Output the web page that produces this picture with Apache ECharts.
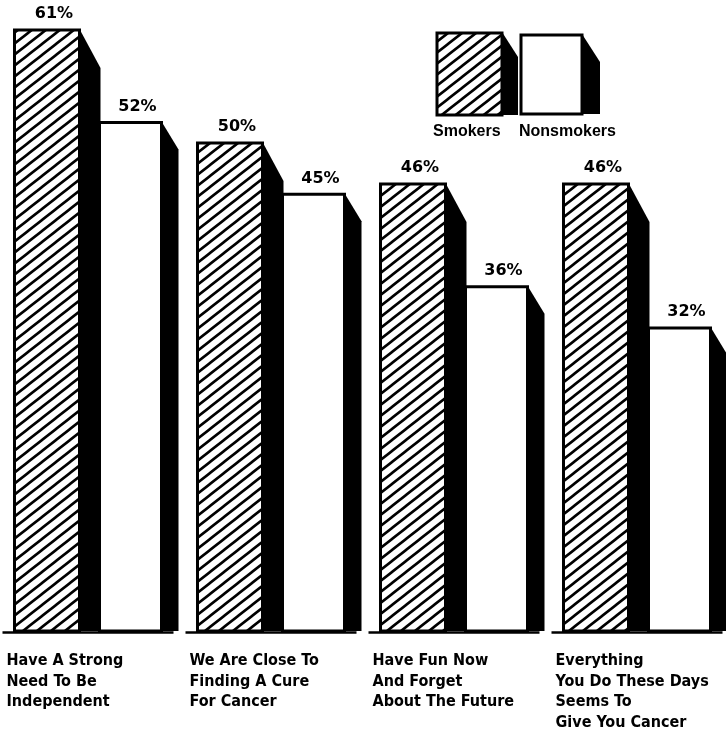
<!DOCTYPE html>
<html>
<head>
<meta charset="utf-8">
<script src="https://cdn.jsdelivr.net/npm/echarts@6/dist/echarts.min.js"></script>
<style>
html,body{margin:0;padding:0;background:#fff;overflow:hidden;width:726px;height:744px;}
#chart{width:732px;height:744px;}
</style>
</head>
<body>
<div id="chart"></div>
<script>
// ---- data ----
const categories = [
  "Have A Strong\nNeed To Be\nIndependent",
  "We Are Close To\nFinding A Cure\nFor Cancer",
  "Have Fun Now\nAnd Forget\nAbout The Future",
  "Everything\nYou Do These Days\nSeems To\nGive You Cancer"
];
const seriesNames = ["Smokers", "Nonsmokers"];
const smokers = [61, 50, 46, 46];
const nonsmokers = [52, 45, 36, 32];
const yMin = 2.4;
const yMax = 61;

// ---- hatch pattern ----
function makeHatch() {
  const w = 14, h = 11;
  const c = document.createElement('canvas');
  c.width = w; c.height = h;
  const g = c.getContext('2d');
  g.fillStyle = '#fff';
  g.fillRect(0, 0, w, h);
  g.strokeStyle = '#000';
  g.lineWidth = 2.6;
  g.beginPath();
  for (let k = -1; k <= 1; k++) {
    g.moveTo(-w + k * w, 2 * h); g.lineTo(2 * w + k * w, -h);
  }
  g.stroke();
  return c;
}
const hatch = makeHatch();
const hatchFill = { image: hatch, repeat: 'repeat' };

const BAND = 183;
const styles = [
  { off: -77 / BAND, w: 65 / BAND, dx: 21, dy: 38, fill: hatchFill },
  { off: 8 / BAND, w: 62 / BAND, dx: 17, dy: 27, fill: '#fff' }
];

const labelFont = 'bold 16px "DejaVu Sans", sans-serif';

function renderBar(params, api) {
  const i = api.value(0);
  const v = api.value(1);
  const c = api.coord([i, v]);
  const base = api.coord([i, yMin]);
  const bw = api.size([1, 0])[0];
  const st = styles[params.seriesIndex];
  const x = c[0] + st.off * bw;
  const w = st.w * bw;
  const top = c[1];
  const bottom = base[1] - 1;
  const children = [];
  if (params.seriesIndex === 0) {
    children.push({
      type: 'line',
      shape: { x1: c[0] - 89 * bw / BAND, y1: base[1] + 0.5, x2: c[0] + 82 * bw / BAND, y2: base[1] + 0.5 },
      style: { stroke: '#000', lineWidth: 2.5 }
    });
  }
  children.push({
    type: 'polygon',
    shape: { points: [[x + w, top - 1], [x + w + st.dx, top + st.dy], [x + w + st.dx, bottom], [x + w, bottom]] },
    style: { fill: '#000' }
  });
  children.push({
    type: 'rect',
    shape: { x: x, y: top, width: w, height: bottom - top },
    style: { fill: st.fill, stroke: '#000', lineWidth: 3 }
  });
  children.push({
    type: 'text',
    x: x + w / 2 + 7,
    y: top - 16,
    style: { text: v + '%', align: 'center', verticalAlign: 'middle', font: labelFont, fill: '#000' }
  });
  return { type: 'group', children: children };
}

const chart = echarts.init(document.getElementById('chart'));
const catFont = '"Liberation Sans Narrow", "Arial Narrow", "DejaVu Sans Condensed", sans-serif';

chart.setOption({
  backgroundColor: '#fff',
  animation: false,
  grid: { left: 0, right: 0, top: 30, bottom: 112, containLabel: false },
  xAxis: {
    type: 'category',
    data: categories,
    boundaryGap: true,
    axisLine: { show: false },
    axisTick: { show: false },
    splitLine: { show: false },
    axisLabel: {
      interval: 0,
      margin: 19,
      align: 'center',
      verticalAlign: 'top',
      hideOverlap: false,
      color: '#000',
      formatter: function (val) {
        return val.split('\n').map(function (l) { return '{a|' + l + '}'; }).join('\n');
      },
      rich: {
        a: {
          width: 170,
          align: 'left',
          fontFamily: catFont,
          fontWeight: 'bold',
          fontSize: 16,
          lineHeight: 20.5,
          color: '#000'
        }
      }
    }
  },
  yAxis: {
    type: 'value',
    min: yMin,
    max: yMax,
    show: false,
    splitLine: { show: false }
  },
  series: [
    {
      name: seriesNames[0],
      type: 'custom',
      renderItem: renderBar,
      encode: { x: 0, y: 1 },
      data: smokers.map(function (v, i) { return [i, v]; })
    },
    {
      name: seriesNames[1],
      type: 'custom',
      renderItem: renderBar,
      encode: { x: 0, y: 1 },
      data: nonsmokers.map(function (v, i) { return [i, v]; })
    }
  ],
  graphic: [
    { type: 'polygon', shape: { points: [[502, 32], [518, 57], [518, 115], [502, 115]] }, style: { fill: '#000' } },
    { type: 'rect', shape: { x: 437, y: 33, width: 65, height: 82 }, style: { fill: hatchFill, stroke: '#000', lineWidth: 3 } },
    { type: 'polygon', shape: { points: [[582, 34], [600, 62], [600, 114], [582, 114]] }, style: { fill: '#000' } },
    { type: 'rect', shape: { x: 521, y: 35, width: 61, height: 79 }, style: { fill: '#fff', stroke: '#000', lineWidth: 3 } },
    { type: 'text', x: 433, y: 132, style: { text: seriesNames[0], font: 'bold 16px "Liberation Sans", Arial, sans-serif', fill: '#000', verticalAlign: 'middle', align: 'left' } },
    { type: 'text', x: 519, y: 132, style: { text: seriesNames[1], font: 'bold 16px "Liberation Sans", Arial, sans-serif', fill: '#000', verticalAlign: 'middle', align: 'left' } }
  ]
});
</script>
</body>
</html>
